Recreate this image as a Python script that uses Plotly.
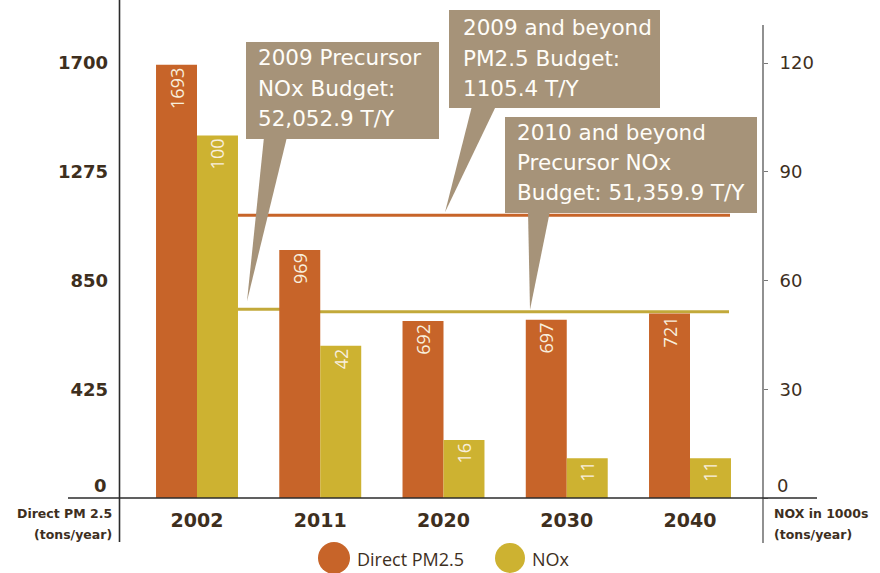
import plotly.graph_objects as go

# ---------------- data ----------------
years = ["2002", "2011", "2020", "2030", "2040"]
pm25 = [1693, 969, 692, 697, 721]          # Direct PM2.5, tons/year
nox = [100, 42, 16, 11, 11]                 # NOx, 1000s tons/year
left_ticks = [0, 425, 850, 1275, 1700]
right_ticks = [0, 30, 60, 90, 120]
pm_budget_2009 = 1105.4
nox_budget_2009 = 52.0529
nox_budget_2010 = 51.3599
callout_1 = ["2009 Precursor", "NOx Budget:", "52,052.9 T/Y"]
callout_2 = ["2009 and beyond", "PM2.5 Budget:", "1105.4 T/Y"]
callout_3 = ["2010 and beyond", "Precursor NOx", "Budget: 51,359.9 T/Y"]
legend_names = ["Direct PM2.5", "NOx"]

# ---------------- style ----------------
ORANGE = "#C76429"
YELLOW = "#CDB231"
LINE_YELLOW = "#C2A93A"
BOX = "#A69379"
DARK = "#3E2F1E"
LABEL = "#F8EEDC"

W, H = 880, 573
L, R, T, B = 120, 763, 10, 498
PX_PER_UNIT_L = 435 / 1700
y_top = (B - T) / PX_PER_UNIT_L
y2_top = y_top * 120 / 1700
cat_step = 123.25
cat0 = 197
x_range = [-(cat0 - L) / cat_step, (R - cat0) / cat_step]


def px(x):
    return (x - L) / (R - L)


def py(y):
    return (B - y) / (B - T)


def xd(x):
    return (x - cat0) / cat_step


def ypix_y(v):
    return B - v / y_top * (B - T)


def ypix_y2(v):
    return B - v / y2_top * (B - T)


fig = go.Figure()
fig.add_trace(go.Bar(
    x=list(range(len(years))), y=pm25, name=legend_names[0],
    marker=dict(color=ORANGE, line=dict(width=0)),
    offsetgroup="pm", yaxis="y",
    text=[str(v) for v in pm25], textposition="inside",
    insidetextanchor="end", textangle=-90,
    textfont=dict(family="Open Sans", size=18, color=LABEL),
    showlegend=False, cliponaxis=False,
))
fig.add_trace(go.Bar(
    x=list(range(len(years))), y=nox, name=legend_names[1],
    marker=dict(color=YELLOW, line=dict(width=0)),
    offsetgroup="nox", yaxis="y2",
    text=[str(v) for v in nox], textposition="inside",
    insidetextanchor="end", textangle=-90,
    textfont=dict(family="Open Sans", size=18, color=LABEL),
    showlegend=False, cliponaxis=False,
))

shapes = []
# budget lines (below bars)
shapes.append(dict(type="line", xref="x", yref="y", x0=xd(238), x1=xd(730),
                   y0=pm_budget_2009, y1=pm_budget_2009,
                   line=dict(color=ORANGE, width=3), layer="below"))
shapes.append(dict(type="line", xref="x", yref="y2", x0=xd(238), x1=xd(300),
                   y0=nox_budget_2009, y1=nox_budget_2009,
                   line=dict(color=LINE_YELLOW, width=3), layer="below"))
shapes.append(dict(type="line", xref="x", yref="y2", x0=xd(300), x1=xd(729),
                   y0=nox_budget_2010, y1=nox_budget_2010,
                   line=dict(color=LINE_YELLOW, width=3), layer="below"))

# axis frame lines
shapes.append(dict(type="line", xref="paper", yref="paper", x0=px(119.5), x1=px(119.5),
                   y0=py(0), y1=py(542), line=dict(color="#2b2b2b", width=1.6)))
shapes.append(dict(type="line", xref="paper", yref="paper", x0=px(763), x1=px(763),
                   y0=py(25), y1=py(543), line=dict(color="#555555", width=1.3)))
shapes.append(dict(type="line", xref="paper", yref="paper", x0=px(68), x1=px(817),
                   y0=py(498), y1=py(498), line=dict(color="#2b2b2b", width=1.6)))

# callout boxes and pointers
def box(x0, y0, x1, y1):
    return dict(type="rect", xref="paper", yref="paper", x0=px(x0), x1=px(x1),
                y0=py(y1), y1=py(y0), fillcolor=BOX, line=dict(width=0), layer="above")


def pointer(xa, xb, ybase, xt, yt):
    path = (f"M {px(xa)},{py(ybase)} L {px(xb)},{py(ybase)} "
            f"L {px(xt)},{py(yt)} Z")
    return dict(type="path", xref="paper", yref="paper", path=path,
                fillcolor=BOX, line=dict(width=0), layer="above")


shapes.append(box(246, 42, 439, 139))
shapes.append(pointer(264, 287, 137, 247, ypix_y2(nox_budget_2009) - 8))
shapes.append(box(449, 10, 660, 108))
shapes.append(pointer(472, 496, 106, 445, ypix_y(pm_budget_2009) - 3))
shapes.append(box(505, 117, 757, 213))
shapes.append(pointer(528, 550, 211, 530, ypix_y2(nox_budget_2010) - 2))

# legend circles
def circle(cx, cy, r, color):
    return dict(type="circle", xref="paper", yref="paper",
                x0=px(cx - r), x1=px(cx + r), y0=py(cy + r), y1=py(cy - r),
                fillcolor=color, line=dict(width=0))


shapes.append(circle(334, 558, 16, ORANGE))
shapes.append(circle(510, 558, 15, YELLOW))

annotations = []


def text(x, y, s, size, color=DARK, family="Open Sans", xanchor="left", weight=None):
    f = dict(family=family, size=size, color=color)
    if weight:
        f["weight"] = weight
    annotations.append(dict(xref="paper", yref="paper", x=px(x), y=py(y), text=s,
                            showarrow=False, xanchor=xanchor, yanchor="middle",
                            font=f, align="left"))


for lines, x0, ys in [(callout_1, 256, [57, 88, 118]),
                      (callout_2, 461, [27, 58, 88]),
                      (callout_3, 515, [132, 162, 192])]:
    for s, yy in zip(lines, ys):
        text(x0, yy, s, 21.5, color="#FFFDF8", family="DejaVu Sans")

# zero labels sit above the baseline
text(109, 485, "0", 18, family="DejaVu Sans", xanchor="right", weight="bold")
text(775, 485, "0", 18, family="DejaVu Sans", xanchor="left")

# axis titles
text(114, 513, "Direct PM 2.5", 12.5, family="DejaVu Sans", xanchor="right", weight="bold")
text(114, 534, "(tons/year)", 12.5, family="DejaVu Sans", xanchor="right", weight="bold")
text(772, 513, "NOX in 1000s", 12.5, family="DejaVu Sans", xanchor="left", weight="bold")
text(772, 534, "(tons/year)", 12.5, family="DejaVu Sans", xanchor="left", weight="bold")

# legend labels
text(355, 559, legend_names[0], 18)
text(530, 559, legend_names[1], 18)

fig.update_layout(
    width=W, height=H,
    margin=dict(l=L, r=W - R, t=T, b=H - B, pad=0),
    paper_bgcolor="white", plot_bgcolor="white",
    barmode="group", bargap=0.335, bargroupgap=0,
    shapes=shapes, annotations=annotations,
    xaxis=dict(range=x_range, tickvals=list(range(len(years))), ticktext=years,
               showgrid=False, zeroline=False, showline=False, ticks="",
               ticklabelstandoff=9,
               tickfont=dict(family="DejaVu Sans", size=19, color=DARK, weight="bold")),
    yaxis=dict(range=[0, y_top], tickvals=left_ticks,
               ticktext=["" if v == 0 else str(v) for v in left_ticks],
               showgrid=False, zeroline=False, showline=False, ticks="",
               ticklabelstandoff=11,
               tickfont=dict(family="DejaVu Sans", size=18, color=DARK, weight="bold")),
    yaxis2=dict(range=[0, y2_top], tickvals=right_ticks,
                ticktext=["" if v == 0 else str(v) for v in right_ticks],
                overlaying="y", side="right",
                showgrid=False, zeroline=False, showline=False,
                ticks="outside", ticklen=4, tickcolor="#777777",
                ticklabelstandoff=8,
                tickfont=dict(family="DejaVu Sans", size=18, color=DARK)),
)

fig.write_html(
    "out.html",
    config={"displayModeBar": False},
    post_script="document.body.style.margin='0px';document.body.style.overflow='hidden';",
)
